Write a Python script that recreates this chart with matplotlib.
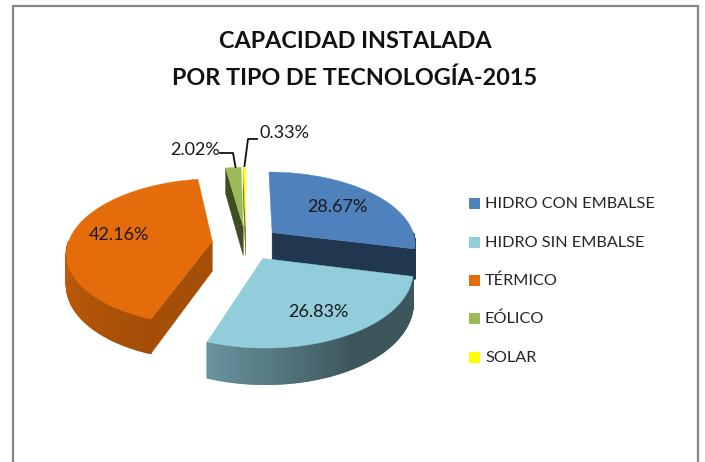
import numpy as np
import matplotlib
matplotlib.use("Agg")
import matplotlib.pyplot as plt
from matplotlib.patches import Polygon, Rectangle

categorias = ["HIDRO CON EMBALSE", "HIDRO SIN EMBALSE", "TÉRMICO", "EÓLICO", "SOLAR"]
valores = [28.67, 26.83, 42.16, 2.02, 0.33]
colores = ["#4F81BD", "#92CDDC", "#E46C0A", "#9BBB59", "#FFFF00"]
etiquetas = ["28.67%", "26.83%", "42.16%", "2.02%", "0.33%"]
titulos = ["CAPACIDAD INSTALADA", "POR TIPO DE TECNOLOGÍA-2015"]

plt.rcParams["font.family"] = ["Lato", "DejaVu Sans"]

# pie geometry, in pixels of the figure
cx, cy = 246, 243
radio = 144
aplaste = 0.5
persp = 7.0
alto = 30
explota = 34


def proyecta(x, z, h=0):
    s = 1 / (1 - z / (persp * radio))
    return cx + x * s, cy + (aplaste * z + h) * s


def sombra(grados):
    return np.interp(grados, [90, 150, 200, 270, 340, 360], [0.42, 0.42, 0.72, 0.85, 0.41, 0.41])


def oscuro(color, f):
    r, g, b = matplotlib.colors.to_rgb(color)
    return (r * f, g * f, b * f)


fig = plt.figure(figsize=(7.05, 4.62), dpi=100)
ax = fig.add_axes([0, 0, 1, 1])
ax.set_xlim(0, 705)
ax.set_ylim(462, 0)
ax.axis("off")

# chart frame, the bottom edge falls outside the picture
ax.add_patch(Rectangle((13, 6), 685, 480, fc="white", ec="#868686", lw=1.6, zorder=0))

for linea, y in zip(titulos, [41, 78]):
    ax.text(355, y, linea, ha="center", va="center", fontsize=16.8, fontweight="bold",
            color="#111111")

fracciones = np.array(valores) / sum(valores) * 360
fines = np.cumsum(fracciones)
inicios = fines - fracciones

for ini, fin, color in zip(inicios, fines, colores):
    medio = np.radians((ini + fin) / 2)
    ox, oz = explota * np.sin(medio), -explota * np.cos(medio)
    angulos = np.linspace(ini, fin, max(int(fin - ini) * 2, 2) + 1)
    px = ox + radio * np.sin(np.radians(angulos))
    pz = oz - radio * np.cos(np.radians(angulos))

    # straight cut faces, only the ones turned towards the viewer
    for a, i, visible in ((ini, 0, ini > 180), (fin, -1, fin < 180)):
        if not visible:
            continue
        cara = [proyecta(ox, oz), proyecta(px[i], pz[i]),
                proyecta(px[i], pz[i], alto), proyecta(ox, oz, alto)]
        c = oscuro(color, sombra(a))
        ax.add_patch(Polygon(cara, fc=c, ec=c, lw=0.3, zorder=2))

    # outer wall, one small quad per step so it gets the gradient
    for j in range(len(angulos) - 1):
        a = (angulos[j] + angulos[j + 1]) / 2
        if a < 90 or a > 270:
            continue
        quad = [proyecta(px[j], pz[j]), proyecta(px[j + 1], pz[j + 1]),
                proyecta(px[j + 1], pz[j + 1], alto), proyecta(px[j], pz[j], alto)]
        c = oscuro(color, sombra(a))
        ax.add_patch(Polygon(quad, fc=c, ec=c, lw=1.0, zorder=2))

    # top face
    tapa = [proyecta(ox, oz)] + [proyecta(a, b) for a, b in zip(px, pz)]
    ax.add_patch(Polygon(tapa, fc=color, ec=color, lw=0.3, zorder=3))

# data labels
pos_etiquetas = [(337, 207), (318, 312), (119, 235), (195, 150), (285, 133)]
for txt, (x, y) in zip(etiquetas, pos_etiquetas):
    ax.text(x, y, txt, ha="center", va="center", fontsize=13, color="#1A1A1A", zorder=5)

# leader lines
ax.plot([220, 233, 235.5], [153, 153, 167], color="#111111", lw=1.3, zorder=5)
ax.plot([257, 248, 244.5], [139, 139, 166], color="#111111", lw=1.3, zorder=5)

# legend
filas = [204, 243, 281, 319, 358]
for nombre, color, y in zip(categorias, colores, filas):
    ax.add_patch(Rectangle((469, y - 6), 11, 11, fc=color, ec="none", zorder=5))
    ax.text(485, y, nombre, ha="left", va="center", fontsize=11.7, color="#262626", zorder=5)

fig.savefig("out.png", dpi=100)
